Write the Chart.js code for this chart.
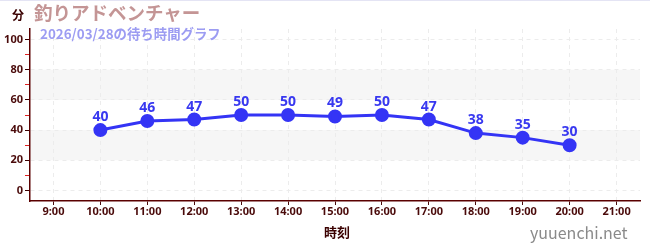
<!DOCTYPE html>
<html>
<head>
<meta charset="utf-8">
<script src="https://cdn.jsdelivr.net/npm/chart.js@4/dist/chart.umd.min.js"></script>
<style>
  body { margin: 0; background: #fff; }
  #wrap { position: relative; width: 650px; height: 250px; border-top: 1px solid #e4e4f4; box-sizing: border-box; }
  .txt { position: absolute; white-space: nowrap; font-family: 'Noto Sans CJK JP', 'Noto Sans', sans-serif; font-weight: bold; }
</style>
</head>
<body>
<div id="wrap">
  <canvas id="myChart" width="650" height="249"></canvas>
  <div class="txt" style="left:12px;top:5px;font-size:12px;color:#3a0000;">分</div>
  <div class="txt" style="left:34px;top:-2px;font-size:18.5px;color:#c49595;">釣りアドベンチャー</div>
  <div class="txt" style="left:40px;top:22px;font-size:13.4px;color:#9c9cf2;">2026/03/28の待ち時間グラフ</div>
  <div class="txt" style="left:324px;top:221px;font-size:13px;color:#3a0000;">時刻</div>
  <div class="txt" style="left:530px;top:219px;font-size:16px;color:#8a8a8a;font-weight:normal;">yuuenchi.net</div>
</div>
<script>
// Data
const hours = [10, 11, 12, 13, 14, 15, 16, 17, 18, 19, 20];
const waitTimes = [40, 46, 47, 50, 50, 49, 50, 47, 38, 35, 30];
const xTicks = [9, 10, 11, 12, 13, 14, 15, 16, 17, 18, 19, 20, 21];
const yTicks = [0, 10, 20, 30, 40, 50, 60, 70, 80, 90, 100];
const yBands = [[20, 40], [60, 80]];

const points = hours.map((h, i) => ({ x: h, y: waitTimes[i] }));

// grey bands behind the line
const bandPlugin = {
    id: 'bands',
    beforeDraw(chart) {
        const { ctx, chartArea, scales } = chart;
        ctx.save();
        ctx.fillStyle = '#f6f6f6';
        yBands.forEach(b => {
            const top = scales.y.getPixelForValue(b[1]);
            const bot = scales.y.getPixelForValue(b[0]);
            ctx.fillRect(chartArea.left, top, chartArea.right - chartArea.left, bot - top);
        });
        ctx.restore();
    }
};

// value labels above points
const labelPlugin = {
    id: 'valueLabels',
    afterDatasetsDraw(chart) {
        const ctx = chart.ctx;
        const meta = chart.getDatasetMeta(0);
        ctx.save();
        ctx.font = "bold 14px 'Noto Sans', sans-serif";
        ctx.fillStyle = '#3838f0';
        ctx.textAlign = 'center';
        ctx.textBaseline = 'bottom';
        meta.data.forEach((pt, i) => {
            ctx.fillText(waitTimes[i], pt.x, pt.y - 6);
        });
        ctx.restore();
    }
};

const tickFont = { family: "'Noto Sans', sans-serif", size: 11, weight: 'bold' };

new Chart(document.getElementById('myChart').getContext('2d'), {
    type: 'line',
    data: {
        datasets: [{
            data: points,
            borderColor: '#3434f5',
            backgroundColor: '#3434f5',
            borderWidth: 3,
            pointRadius: 5.5,
            pointHoverRadius: 5.5,
            tension: 0
        }]
    },
    options: {
        responsive: false,
        animation: false,
        layout: { padding: { top: 28, right: 10, left: 0, bottom: 0 } },
        plugins: { legend: { display: false }, tooltip: { enabled: false } },
        scales: {
            x: {
                type: 'linear',
                min: 8.5,
                max: 21.5,
                afterBuildTicks: scale => { scale.ticks = xTicks.map(v => ({ value: v })); },
                afterFit: scale => { scale.height = 49; },
                ticks: {
                    color: '#4a0a0a',
                    font: tickFont,
                    padding: 0,
                    maxRotation: 0,
                    autoSkip: false,
                    callback: v => v + ':00'
                },
                grid: { color: '#ececec', tickColor: '#4a0a0a', tickLength: 4, tickBorderDash: [] },
                border: { color: '#5a0000', width: 1.5, dash: [4, 4] }
            },
            y: {
                min: -7,
                max: 107,
                afterBuildTicks: scale => { scale.ticks = yTicks.map(v => ({ value: v })); },
                afterFit: scale => { scale.width = 30; },
                ticks: {
                    color: '#4a0a0a',
                    font: tickFont,
                    padding: 2,
                    autoSkip: false,
                    callback: v => (v % 20 === 0 ? v : '')
                },
                grid: {
                    color: c => (c.tick && c.tick.value % 20 === 0 ? '#ececec' : 'rgba(0,0,0,0)'),
                    tickColor: c => (c.tick && c.tick.value % 20 === 0 ? '#3a0000' : '#dd2222'),
                    tickLength: 5,
                    tickBorderDash: []
                },
                border: { color: '#5a0000', width: 1.5, dash: [4, 4] }
            }
        }
    },
    plugins: [bandPlugin, labelPlugin]
});
</script>
</body>
</html>
